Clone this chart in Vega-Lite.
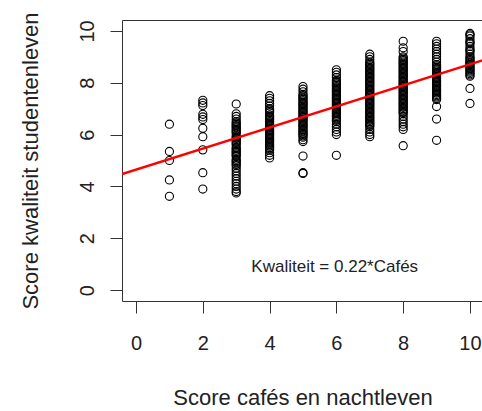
{
"$schema": "https://vega.github.io/schema/vega-lite/v6.json",
"width": 361,
"height": 281,
"autosize": {"type": "none"},
"padding": {"left": 122, "top": 20, "right": 0, "bottom": 110},
"background": "white",
"config": {"view": {"stroke": "#333", "strokeWidth": 1}, "font": "Liberation Sans"},
"datasets": {
"pts": [
{"x":1,"y":6.4},{"x":1,"y":5.35},{"x":1,"y":5.0},{"x":1,"y":4.25},{"x":1,"y":3.62},
{"x":2,"y":7.32},{"x":2,"y":7.22},{"x":2,"y":7.12},{"x":2,"y":6.78},{"x":2,"y":6.68},{"x":2,"y":6.58},{"x":2,"y":6.24},{"x":2,"y":5.92},{"x":2,"y":5.41},{"x":2,"y":4.53},{"x":2,"y":3.9},
{"x":3,"y":7.18},{"x":3,"y":6.8},{"x":3,"y":6.7},{"x":3,"y":6.6},{"x":3,"y":6.5},{"x":3,"y":6.45},{"x":3,"y":6.4},{"x":3,"y":6.35},{"x":3,"y":6.3},{"x":3,"y":6.25},{"x":3,"y":6.2},{"x":3,"y":6.15},{"x":3,"y":6.1},{"x":3,"y":6.05},{"x":3,"y":5.95},{"x":3,"y":5.9},{"x":3,"y":5.85},{"x":3,"y":5.8},{"x":3,"y":5.75},{"x":3,"y":5.7},{"x":3,"y":5.65},{"x":3,"y":5.6},{"x":3,"y":5.5},{"x":3,"y":5.45},{"x":3,"y":5.4},{"x":3,"y":5.35},{"x":3,"y":5.3},{"x":3,"y":5.25},{"x":3,"y":5.2},{"x":3,"y":5.15},{"x":3,"y":5.05},{"x":3,"y":5.0},{"x":3,"y":4.95},{"x":3,"y":4.9},{"x":3,"y":4.85},{"x":3,"y":4.8},{"x":3,"y":4.7},{"x":3,"y":4.6},{"x":3,"y":4.5},{"x":3,"y":4.4},{"x":3,"y":4.3},{"x":3,"y":4.2},{"x":3,"y":4.1},{"x":3,"y":4.0},{"x":3,"y":3.9},{"x":3,"y":3.8},{"x":3,"y":3.75},
{"x":4,"y":7.5},{"x":4,"y":7.4},{"x":4,"y":7.3},{"x":4,"y":7.2},{"x":4,"y":7.1},{"x":4,"y":7.0},{"x":4,"y":6.95},{"x":4,"y":6.9},{"x":4,"y":6.85},{"x":4,"y":6.75},{"x":4,"y":6.7},{"x":4,"y":6.65},{"x":4,"y":6.6},{"x":4,"y":6.55},{"x":4,"y":6.5},{"x":4,"y":6.45},{"x":4,"y":6.4},{"x":4,"y":6.35},{"x":4,"y":6.3},{"x":4,"y":6.25},{"x":4,"y":6.2},{"x":4,"y":6.15},{"x":4,"y":6.1},{"x":4,"y":6.05},{"x":4,"y":6.0},{"x":4,"y":5.95},{"x":4,"y":5.9},{"x":4,"y":5.85},{"x":4,"y":5.8},{"x":4,"y":5.75},{"x":4,"y":5.7},{"x":4,"y":5.65},{"x":4,"y":5.6},{"x":4,"y":5.55},{"x":4,"y":5.5},{"x":4,"y":5.45},{"x":4,"y":5.4},{"x":4,"y":5.3},{"x":4,"y":5.2},{"x":4,"y":5.1},
{"x":5,"y":7.85},{"x":5,"y":7.75},{"x":5,"y":7.65},{"x":5,"y":7.55},{"x":5,"y":7.5},{"x":5,"y":7.45},{"x":5,"y":7.4},{"x":5,"y":7.35},{"x":5,"y":7.3},{"x":5,"y":7.25},{"x":5,"y":7.2},{"x":5,"y":7.15},{"x":5,"y":7.1},{"x":5,"y":7.05},{"x":5,"y":7.0},{"x":5,"y":6.95},{"x":5,"y":6.9},{"x":5,"y":6.85},{"x":5,"y":6.8},{"x":5,"y":6.75},{"x":5,"y":6.7},{"x":5,"y":6.65},{"x":5,"y":6.6},{"x":5,"y":6.55},{"x":5,"y":6.5},{"x":5,"y":6.45},{"x":5,"y":6.4},{"x":5,"y":6.35},{"x":5,"y":6.3},{"x":5,"y":6.25},{"x":5,"y":6.2},{"x":5,"y":6.15},{"x":5,"y":6.1},{"x":5,"y":6.05},{"x":5,"y":6.0},{"x":5,"y":5.95},{"x":5,"y":5.9},{"x":5,"y":5.8},{"x":5,"y":5.73},{"x":5,"y":5.17},{"x":5,"y":4.53},{"x":5,"y":4.5},
{"x":6,"y":8.5},{"x":6,"y":8.4},{"x":6,"y":8.3},{"x":6,"y":8.2},{"x":6,"y":8.1},{"x":6,"y":8.05},{"x":6,"y":8.0},{"x":6,"y":7.95},{"x":6,"y":7.9},{"x":6,"y":7.85},{"x":6,"y":7.8},{"x":6,"y":7.75},{"x":6,"y":7.7},{"x":6,"y":7.65},{"x":6,"y":7.6},{"x":6,"y":7.55},{"x":6,"y":7.5},{"x":6,"y":7.45},{"x":6,"y":7.4},{"x":6,"y":7.35},{"x":6,"y":7.3},{"x":6,"y":7.25},{"x":6,"y":7.2},{"x":6,"y":7.15},{"x":6,"y":7.1},{"x":6,"y":7.05},{"x":6,"y":7.0},{"x":6,"y":6.95},{"x":6,"y":6.9},{"x":6,"y":6.85},{"x":6,"y":6.8},{"x":6,"y":6.75},{"x":6,"y":6.7},{"x":6,"y":6.65},{"x":6,"y":6.6},{"x":6,"y":6.55},{"x":6,"y":6.5},{"x":6,"y":6.4},{"x":6,"y":6.3},{"x":6,"y":6.2},{"x":6,"y":6.1},{"x":6,"y":6.0},{"x":6,"y":5.2},
{"x":7,"y":9.1},{"x":7,"y":9.0},{"x":7,"y":8.9},{"x":7,"y":8.8},{"x":7,"y":8.75},{"x":7,"y":8.7},{"x":7,"y":8.65},{"x":7,"y":8.6},{"x":7,"y":8.55},{"x":7,"y":8.5},{"x":7,"y":8.45},{"x":7,"y":8.4},{"x":7,"y":8.35},{"x":7,"y":8.3},{"x":7,"y":8.25},{"x":7,"y":8.2},{"x":7,"y":8.15},{"x":7,"y":8.1},{"x":7,"y":8.05},{"x":7,"y":8.0},{"x":7,"y":7.95},{"x":7,"y":7.9},{"x":7,"y":7.85},{"x":7,"y":7.8},{"x":7,"y":7.75},{"x":7,"y":7.7},{"x":7,"y":7.65},{"x":7,"y":7.6},{"x":7,"y":7.55},{"x":7,"y":7.5},{"x":7,"y":7.45},{"x":7,"y":7.4},{"x":7,"y":7.35},{"x":7,"y":7.3},{"x":7,"y":7.25},{"x":7,"y":7.2},{"x":7,"y":7.15},{"x":7,"y":7.1},{"x":7,"y":7.05},{"x":7,"y":7.0},{"x":7,"y":6.95},{"x":7,"y":6.9},{"x":7,"y":6.85},{"x":7,"y":6.8},{"x":7,"y":6.75},{"x":7,"y":6.7},{"x":7,"y":6.65},{"x":7,"y":6.6},{"x":7,"y":6.55},{"x":7,"y":6.5},{"x":7,"y":6.45},{"x":7,"y":6.4},{"x":7,"y":6.35},{"x":7,"y":6.3},{"x":7,"y":6.2},{"x":7,"y":6.1},{"x":7,"y":6.0},{"x":7,"y":5.92},
{"x":8,"y":9.6},{"x":8,"y":9.35},{"x":8,"y":9.2},{"x":8,"y":9.0},{"x":8,"y":8.95},{"x":8,"y":8.9},{"x":8,"y":8.85},{"x":8,"y":8.8},{"x":8,"y":8.75},{"x":8,"y":8.7},{"x":8,"y":8.65},{"x":8,"y":8.6},{"x":8,"y":8.55},{"x":8,"y":8.5},{"x":8,"y":8.45},{"x":8,"y":8.4},{"x":8,"y":8.35},{"x":8,"y":8.3},{"x":8,"y":8.25},{"x":8,"y":8.2},{"x":8,"y":8.15},{"x":8,"y":8.1},{"x":8,"y":8.05},{"x":8,"y":8.0},{"x":8,"y":7.95},{"x":8,"y":7.9},{"x":8,"y":7.85},{"x":8,"y":7.8},{"x":8,"y":7.75},{"x":8,"y":7.7},{"x":8,"y":7.65},{"x":8,"y":7.6},{"x":8,"y":7.55},{"x":8,"y":7.5},{"x":8,"y":7.45},{"x":8,"y":7.4},{"x":8,"y":7.35},{"x":8,"y":7.3},{"x":8,"y":7.25},{"x":8,"y":7.2},{"x":8,"y":7.15},{"x":8,"y":7.1},{"x":8,"y":7.05},{"x":8,"y":7.0},{"x":8,"y":6.95},{"x":8,"y":6.9},{"x":8,"y":6.85},{"x":8,"y":6.8},{"x":8,"y":6.7},{"x":8,"y":6.6},{"x":8,"y":6.5},{"x":8,"y":6.4},{"x":8,"y":6.3},{"x":8,"y":6.2},{"x":8,"y":5.57},
{"x":9,"y":9.6},{"x":9,"y":9.5},{"x":9,"y":9.4},{"x":9,"y":9.3},{"x":9,"y":9.2},{"x":9,"y":9.1},{"x":9,"y":9.0},{"x":9,"y":8.9},{"x":9,"y":8.8},{"x":9,"y":8.7},{"x":9,"y":8.65},{"x":9,"y":8.6},{"x":9,"y":8.55},{"x":9,"y":8.5},{"x":9,"y":8.45},{"x":9,"y":8.4},{"x":9,"y":8.35},{"x":9,"y":8.3},{"x":9,"y":8.25},{"x":9,"y":8.2},{"x":9,"y":8.15},{"x":9,"y":8.1},{"x":9,"y":8.05},{"x":9,"y":8.0},{"x":9,"y":7.95},{"x":9,"y":7.9},{"x":9,"y":7.85},{"x":9,"y":7.8},{"x":9,"y":7.75},{"x":9,"y":7.7},{"x":9,"y":7.65},{"x":9,"y":7.6},{"x":9,"y":7.55},{"x":9,"y":7.5},{"x":9,"y":7.45},{"x":9,"y":7.4},{"x":9,"y":7.35},{"x":9,"y":7.08},{"x":9,"y":6.6},{"x":9,"y":5.78},
{"x":10,"y":9.9},{"x":10,"y":9.85},{"x":10,"y":9.8},{"x":10,"y":9.7},{"x":10,"y":9.6},{"x":10,"y":9.55},{"x":10,"y":9.5},{"x":10,"y":9.4},{"x":10,"y":9.3},{"x":10,"y":9.25},{"x":10,"y":9.2},{"x":10,"y":9.1},{"x":10,"y":9.0},{"x":10,"y":8.95},{"x":10,"y":8.9},{"x":10,"y":8.85},{"x":10,"y":8.8},{"x":10,"y":8.75},{"x":10,"y":8.7},{"x":10,"y":8.65},{"x":10,"y":8.6},{"x":10,"y":8.55},{"x":10,"y":8.5},{"x":10,"y":8.45},{"x":10,"y":8.4},{"x":10,"y":8.35},{"x":10,"y":8.3},{"x":10,"y":8.25},{"x":10,"y":7.78},{"x":10,"y":7.2}
],
"fit": [{"x":-0.42,"y":4.48},{"x":10.39,"y":8.87}],
"note": [{"x":5.95,"y":0.9,"label":"Kwaliteit = 0.22*Cafés"}]
},
"layer": [
{"data": {"name": "pts"},
 "mark": {"type": "point", "shape": "circle", "filled": false, "color": "black", "strokeWidth": 1.1, "size": 66, "opacity": 1},
 "encoding": {
  "x": {"field": "x", "type": "quantitative", "title": "Score cafés en nachtleven",
        "scale": {"domain": [-0.42, 10.39], "nice": false, "zero": false},
        "axis": {"values": [0,2,4,6,8,10], "domain": false, "grid": false, "tickSize": 12, "tickColor": "#333",
                 "labelFontSize": 20, "labelColor": "#222", "labelPadding": 20, "labelFlush": false, "labelOverlap": false,
                 "titleFontSize": 22, "titleFontWeight": "normal", "titleColor": "#222", "titleBaseline": "alphabetic", "titleY": 103}},
  "y": {"field": "y", "type": "quantitative", "title": "Score kwaliteit studentenleven",
        "scale": {"domain": [-0.42, 10.42], "nice": false, "zero": false},
        "axis": {"values": [0,2,4,6,8,10], "domain": false, "grid": false, "tickSize": 12, "tickColor": "#333",
                 "labelFontSize": 20, "labelColor": "#222", "labelAngle": -90, "labelAlign": "center", "labelBaseline": "alphabetic", "labelPadding": 17, "labelFlush": false, "labelOverlap": false,
                 "titleFontSize": 22, "titleFontWeight": "normal", "titleColor": "#222", "titleBaseline": "alphabetic", "titleX": -85}}
 }},
{"data": {"name": "fit"},
 "mark": {"type": "line", "color": "#ff0000", "strokeWidth": 2.5, "clip": true},
 "encoding": {
  "x": {"field": "x", "type": "quantitative", "title": "Score cafés en nachtleven"},
  "y": {"field": "y", "type": "quantitative", "title": "Score kwaliteit studentenleven"}
 }},
{"data": {"name": "note"},
 "mark": {"type": "text", "fontSize": 17, "color": "#222", "align": "center", "baseline": "middle"},
 "encoding": {
  "x": {"field": "x", "type": "quantitative", "title": "Score cafés en nachtleven"},
  "y": {"field": "y", "type": "quantitative", "title": "Score kwaliteit studentenleven"},
  "text": {"field": "label"}
 }}
]
}
